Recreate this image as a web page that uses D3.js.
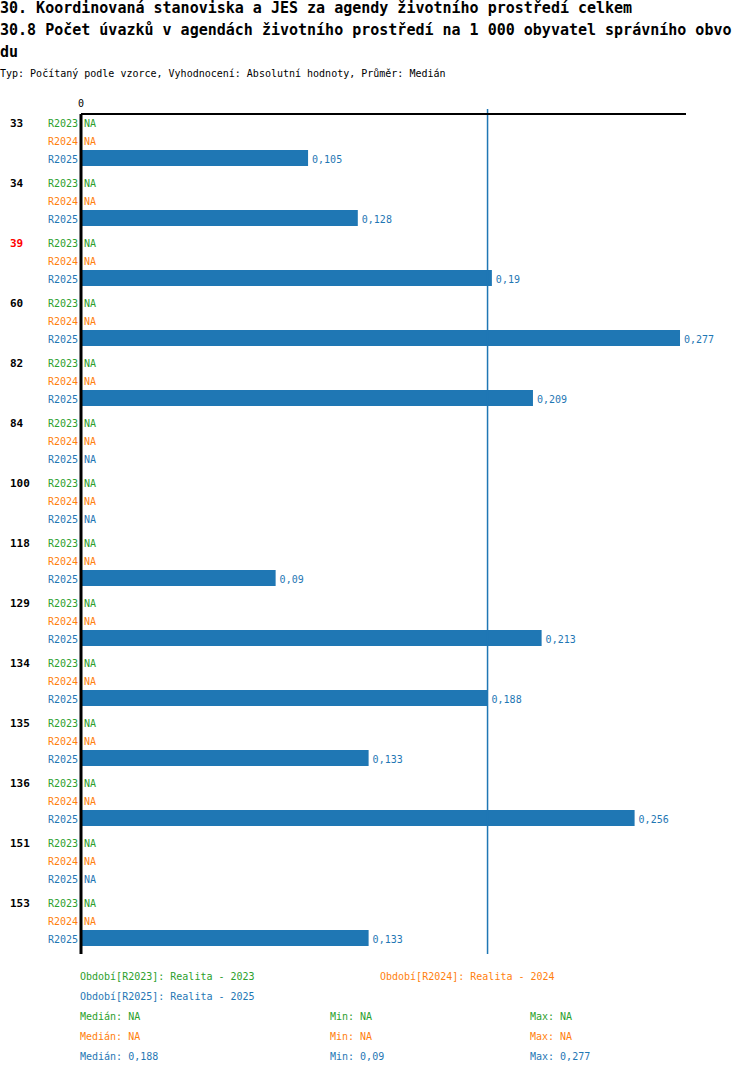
<!DOCTYPE html>
<html lang="cs">

<head>
    <meta http-equiv="Content-Type" content="text/html; charset=UTF-8">
    <title>30.8 Počet úvazků</title>
    <script type="text/javascript" src="https://cdn.jsdelivr.net/npm/d3@7"></script>
    <style>
        body { margin: 0; background: white; }
        text { font-family: "DejaVu Sans Mono", monospace; }
    </style>
</head>

<body>
    <div id="graph"></div>

    <script type="text/javascript">
        // data
        var titleLines = [
            "30. Koordinovaná stanoviska a JES za agendy životního prostředí celkem",
            "30.8 Počet úvazků v agendách životního prostředí na 1 000 obyvatel správního obvo",
            "du"
        ];
        var subtitle = "Typ: Počítaný podle vzorce, Vyhodnocení: Absolutní hodnoty, Průměr: Medián";

        var groups = ["33", "34", "39", "60", "82", "84", "100", "118", "129", "134", "135", "136", "151", "153"];
        var highlighted = "39";
        var series = ["R2023", "R2024", "R2025"];
        var seriesNames = ["Realita - 2023", "Realita - 2024", "Realita - 2025"];
        var colors = ["#2ca02c", "#ff7f0e", "#1f77b4"];

        var r2023 = [null, null, null, null, null, null, null, null, null, null, null, null, null, null];
        var r2024 = [null, null, null, null, null, null, null, null, null, null, null, null, null, null];
        var r2025 = [0.105, 0.128, 0.19, 0.277, 0.209, null, null, 0.09, 0.213, 0.188, 0.133, 0.256, null, 0.133];
        var values = [r2023, r2024, r2025];

        var svg = d3.select("#graph").append("svg").attr("width", 750).attr("height", 1074);

        function fmt(v) {
            if (v == null) return "NA";
            return String(v).replace(".", ",");
        }

        //タイトル
        svg.selectAll("text.title").data(titleLines).enter()
            .append("text")
            .attr("class", "title")
            .attr("x", 0)
            .attr("y", function(d, i) { return 13 + i * 22; })
            .style("font-size", "15px")
            .style("font-weight", "bold")
            .text(function(d) { return d; });

        svg.append("text")
            .attr("x", 0).attr("y", 77)
            .style("font-size", "10px")
            .text(subtitle);

        // scales
        var allVals = r2025.concat(r2024, r2023).filter(function(d) { return d != null; });
        var xscale = d3.scaleLinear().domain([0, d3.max(allVals) * 1.01]).range([81, 686]);
        var yscale = d3.scaleBand().domain(groups).range([114, 954]);
        var yinner = d3.scaleBand().domain(series).range([0, 54]);

        var rows = [];
        groups.forEach(function(g, gi) {
            series.forEach(function(s, si) {
                rows.push({ group: g, series: s, si: si, value: values[si][gi] });
            });
        });

        // bars
        svg.selectAll("rect.bar").data(rows.filter(function(d) { return d.value != null; })).enter()
            .append("rect")
            .attr("class", "bar")
            .attr("x", xscale(0))
            .attr("y", function(d) { return yscale(d.group) + yinner(d.series); })
            .attr("width", function(d) { return xscale(d.value) - xscale(0); })
            .attr("height", 16)
            .attr("fill", function(d) { return colors[d.si]; });

        // series labels
        svg.selectAll("text.slabel").data(rows).enter()
            .append("text")
            .attr("class", "slabel")
            .attr("x", 78)
            .attr("y", function(d) { return yscale(d.group) + yinner(d.series) + 9; })
            .attr("dy", "0.35em")
            .attr("text-anchor", "end")
            .style("font-size", "10px")
            .attr("fill", function(d) { return colors[d.si]; })
            .text(function(d) { return d.series; });

        // values
        svg.selectAll("text.vlabel").data(rows).enter()
            .append("text")
            .attr("class", "vlabel")
            .attr("x", function(d) { return d.value == null ? 84 : xscale(d.value) + 4; })
            .attr("y", function(d) { return yscale(d.group) + yinner(d.series) + 9; })
            .attr("dy", "0.35em")
            .style("font-size", "10px")
            .attr("fill", function(d) { return colors[d.si]; })
            .text(function(d) { return fmt(d.value); });

        // group labels
        svg.selectAll("text.glabel").data(groups).enter()
            .append("text")
            .attr("class", "glabel")
            .attr("x", 10)
            .attr("y", function(d) { return yscale(d) + 9; })
            .attr("dy", "0.35em")
            .style("font-size", "11px")
            .style("font-weight", "bold")
            .attr("fill", function(d) { return d == highlighted ? "red" : "black"; })
            .text(function(d) { return d; });

        // median line
        var med = d3.median(r2025.filter(function(d) { return d != null; }));
        svg.append("line")
            .attr("x1", xscale(med)).attr("x2", xscale(med))
            .attr("y1", 109).attr("y2", 954)
            .style("stroke", colors[2])
            .style("stroke-width", 1.5);

        // axes
        svg.append("line")
            .attr("x1", xscale.range()[0]).attr("x2", xscale.range()[1])
            .attr("y1", 114).attr("y2", 114)
            .style("stroke", "black").style("stroke-width", 2);
        svg.append("line")
            .attr("x1", xscale(0)).attr("x2", xscale(0))
            .attr("y1", 114).attr("y2", 954)
            .style("stroke", "black").style("stroke-width", 3);
        svg.append("text")
            .attr("x", xscale(0)).attr("y", 107)
            .attr("text-anchor", "middle")
            .style("font-size", "10px")
            .text("0");

        // legend
        var legendPos = [[80, 976], [380, 976], [80, 996]];
        series.forEach(function(s, i) {
            svg.append("text")
                .attr("x", legendPos[i][0]).attr("y", legendPos[i][1])
                .attr("dy", "0.35em")
                .style("font-size", "10px")
                .attr("fill", colors[i])
                .text("Období[" + s + "]: " + seriesNames[i]);
        });

        // statistiky
        series.forEach(function(s, i) {
            var v = values[i].filter(function(d) { return d != null; });
            var stats = [
                ["Medián: ", v.length ? d3.median(v) : null, 80],
                ["Min: ", v.length ? d3.min(v) : null, 330],
                ["Max: ", v.length ? d3.max(v) : null, 530]
            ];
            stats.forEach(function(st) {
                svg.append("text")
                    .attr("x", st[2]).attr("y", 1016 + i * 20)
                    .attr("dy", "0.35em")
                    .style("font-size", "10px")
                    .attr("fill", colors[i])
                    .text(st[0] + fmt(st[1]));
            });
        });
    </script>

</body>

</html>
